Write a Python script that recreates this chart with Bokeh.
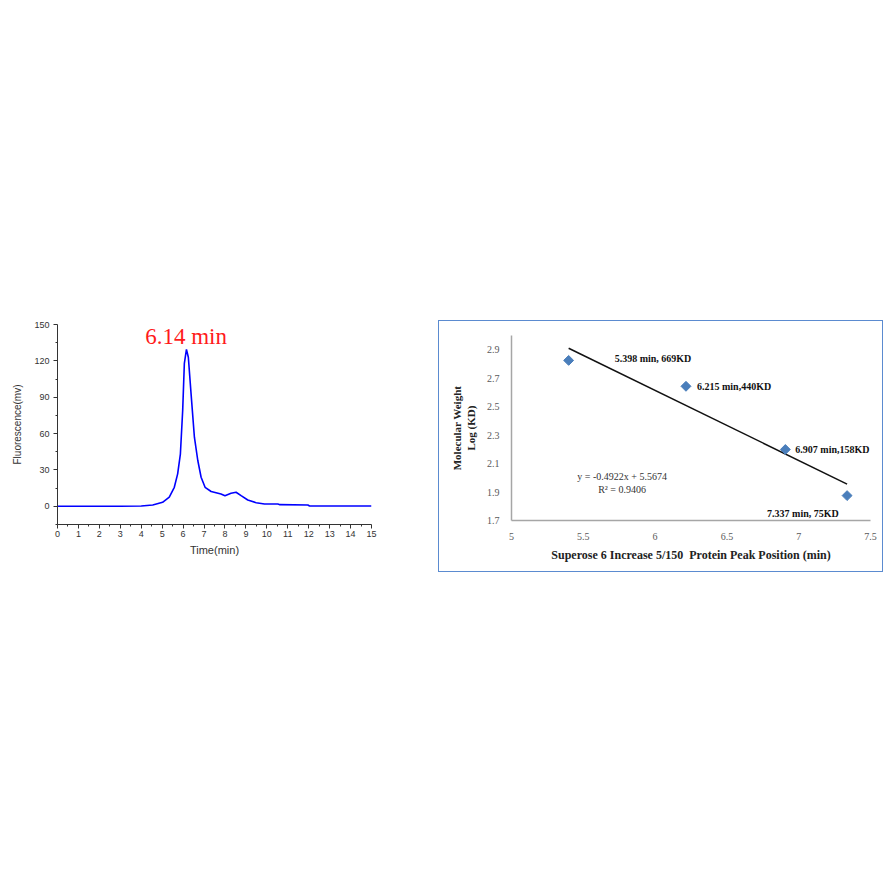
from bokeh.plotting import figure
from bokeh.layouts import row, column
from bokeh.models import Spacer, FixedTicker, ColumnDataSource, Label
from bokeh.core.properties import value
from bokeh.embed import file_html
from bokeh.resources import INLINE
import math

# ---------------- data: chromatogram ----------------
time_min = [0, 1, 2, 3, 4.0, 4.55, 5.02, 5.34, 5.58, 5.74, 5.87, 5.98, 6.06, 6.16, 6.25,
            6.38, 6.54, 6.70, 6.86, 7.05, 7.34, 7.81, 8.0, 8.29, 8.53, 8.77, 9.09, 9.49,
            9.89, 10.53, 10.6, 11.96, 12.04, 13, 14, 15]
fluor_mv = [0, 0, 0, 0, 0.3, 1.1, 3.3, 7.5, 15.7, 26.8, 43, 79, 118, 129.5, 123,
            93, 57, 38, 24, 15.7, 12.2, 10.2, 8.8, 10.8, 11.6, 8.8, 5.2, 3.0,
            1.9, 1.9, 1.4, 1.1, 0.3, 0.3, 0.3, 0.3]
peak_label = "6.14 min"
peak_time = 6.14
x1_ticks = list(range(0, 16))
y1_ticks = [0, 30, 60, 90, 120, 150]

# ---------------- data: calibration ----------------
peak_pos = [5.398, 6.215, 6.907, 7.337]
log_kd = [2.825, 2.643, 2.199, 1.875]
point_labels = ["5.398 min, 669KD", "6.215 min,440KD", "6.907 min,158KD", "7.337 min, 75KD"]
slope = -0.4922
intercept = 5.5674
r_squared = 0.9406
x2_ticks = [5, 5.5, 6, 6.5, 7, 7.5]
y2_ticks = [1.7, 1.9, 2.1, 2.3, 2.5, 2.7, 2.9]

# ---------------- left figure ----------------
p1 = figure(width=430, height=264, x_range=(0, 15), y_range=(-15, 150),
            output_backend="svg", toolbar_location=None,
            min_border_left=49, min_border_right=67, min_border_top=16, min_border_bottom=48)
p1.outline_line_color = None
p1.grid.grid_line_color = None
p1.background_fill_color = "white"
p1.border_fill_color = "white"

p1.line(time_min, fluor_mv, line_color="#0000ff", line_width=1.6)

p1.xaxis.ticker = FixedTicker(ticks=x1_ticks, minor_ticks=[t + 0.5 for t in x1_ticks[:-1]])
p1.yaxis.ticker = FixedTicker(ticks=y1_ticks, minor_ticks=[t + 15 for t in y1_ticks[:-1]] + [-15])
for ax in (p1.xaxis[0], p1.yaxis[0]):
    ax.axis_line_color = "#333333"
    ax.major_tick_line_color = "#333333"
    ax.minor_tick_line_color = "#333333"
    ax.major_tick_out = 4
    ax.major_tick_in = 0
    ax.minor_tick_out = 2
    ax.minor_tick_in = 0
    ax.major_label_text_font = "Liberation Sans"
    ax.major_label_text_font_size = "9px"
    ax.major_label_text_color = "#333333"
    ax.axis_label_text_font = "Liberation Sans"
    ax.axis_label_text_font_size = "11px"
    ax.axis_label_text_font_style = "normal"
    ax.axis_label_text_color = "#333333"
p1.yaxis.axis_label_text_font_size = "10px"
p1.xaxis.axis_label = "Time(min)"
p1.yaxis.axis_label = "Fluorescence(mv)"
p1.xaxis.major_label_standoff = 2
p1.xaxis.axis_label_standoff = 4
p1.yaxis.major_label_standoff = 4
p1.yaxis.axis_label_standoff = 8

p1.add_layout(Label(x=peak_time, y=140, text=peak_label, text_align="center",
                    text_baseline="middle", text_font="Liberation Serif",
                    text_font_size="23px", text_color="#ff1a1a"))

# ---------------- right figure ----------------
p2 = figure(width=445, height=252, x_range=(5, 7.5), y_range=(1.7, 3.0),
            output_backend="svg", toolbar_location=None,
            min_border_left=72, min_border_right=14, min_border_top=14, min_border_bottom=53)
p2.styles = {"border": "1px solid #5b8bd0", "box-sizing": "border-box"}
p2.outline_line_color = None
p2.grid.grid_line_color = None

fit_x = [min(peak_pos), max(peak_pos)]
fit_y = [slope * x + intercept for x in fit_x]
p2.line(fit_x, fit_y, line_color="#111111", line_width=1.5)

src = ColumnDataSource(dict(x=peak_pos, y=log_kd, lab=point_labels,
                            dx=[46, 11, 10, -80], dy=[-2, 0, 0, 18]))
p2.scatter("x", "y", source=src, marker="square", size=7, angle=math.pi / 4,
           fill_color="#4a7ebb", line_color="#4a7ebb")
p2.text("x", "y", text="lab", source=src, x_offset="dx", y_offset="dy",
        text_font=value("Liberation Serif"), text_font_style="bold",
        text_font_size="10px", text_color="#111111",
        text_baseline="middle", text_align="left")

eq_text = "y = %.4fx + %.4f" % (slope, intercept)
r2_text = "R\u00b2 = %.4f" % r_squared
p2.add_layout(Label(x=5.77, y=2.01, text=eq_text, text_align="center", text_baseline="middle",
                    text_font="Liberation Serif", text_font_size="10px", text_color="#333333"))
p2.add_layout(Label(x=5.77, y=1.92, text=r2_text, text_align="center", text_baseline="middle",
                    text_font="Liberation Serif", text_font_size="10px", text_color="#333333"))

p2.xaxis.ticker = FixedTicker(ticks=x2_ticks)
p2.yaxis.ticker = FixedTicker(ticks=y2_ticks)
p2.xaxis.major_label_overrides = {t: "%g" % t for t in x2_ticks}
p2.yaxis.major_label_overrides = {t: "%g" % t for t in y2_ticks}
for ax in (p2.xaxis[0], p2.yaxis[0]):
    ax.axis_line_color = "#a6a6a6"
    ax.axis_line_width = 1.5
    ax.major_tick_line_color = None
    ax.minor_tick_line_color = None
    ax.major_tick_out = 0
    ax.major_tick_in = 0
    ax.major_label_text_font = "Liberation Serif"
    ax.major_label_text_font_size = "10px"
    ax.major_label_text_color = "#595959"
    ax.axis_label_text_font = "Liberation Serif"
    ax.axis_label_text_font_size = "11px"
    ax.axis_label_text_font_style = "bold"
    ax.axis_label_text_color = "#222222"
p2.xaxis.axis_label_text_font_size = "12px"
p2.xaxis.axis_label = "Superose 6 Increase 5/150\u00a0 Protein Peak Position (min)"
p2.yaxis.axis_label = "Molecular Weight\nLog (KD)"
p2.xaxis.major_label_standoff = 12
p2.xaxis.axis_label_standoff = 5
p2.yaxis.major_label_standoff = 12
p2.yaxis.axis_label_standoff = 7

layout = column(Spacer(height=308),
                row(Spacer(width=8), p1, column(Spacer(height=12), p2)))

open("out.html", "w").write(file_html(layout, INLINE))
